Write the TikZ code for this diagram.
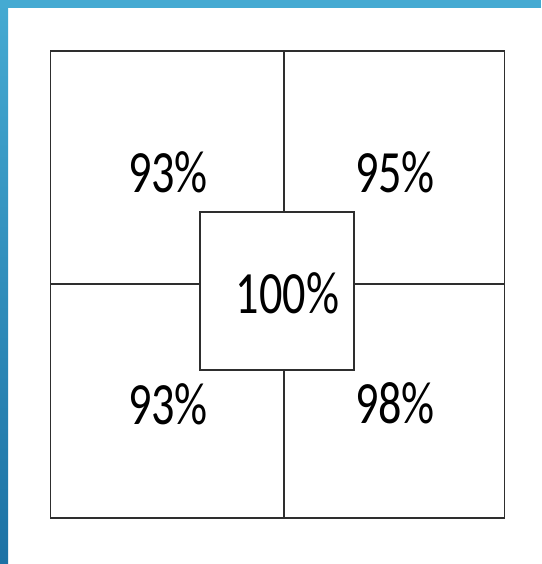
\documentclass[tikz,border=0pt]{standalone}
\usepackage{fontspec}
\setmainfont{Carlito}
\definecolor{bartop}{HTML}{45AAD2}
\definecolor{barbot}{HTML}{1C72A5}
\definecolor{linegray}{HTML}{2E2E2E}
\tikzset{
  box/.style={draw=linegray, line width=1.6pt, fill=white},
  grid/.style={draw=linegray, line width=1.4pt},
  pct/.style={inner sep=0pt, font=\fontsize{60}{60}\selectfont, xscale=0.77, anchor=center}
}
\begin{document}
\begin{tikzpicture}[x=1pt,y=-1pt]
\useasboundingbox (0,0) rectangle (541,564);
\fill[white] (0,0) rectangle (541,564);
\shade[top color=bartop, bottom color=barbot] (0,0) rectangle (8,564);
\fill[bartop] (0,0) rectangle (541,8);
\draw[box] (50.5,51) rectangle (504.5,518);
\coordinate (tm) at (284,51);
\coordinate (bm) at (284,518);
\coordinate (lm) at (50.5,284);
\coordinate (rm) at (504.5,284);
\node[box, minimum width=154pt, minimum height=158.5pt, inner sep=0pt] (c) at (277,291) {};
\draw[grid] (tm) -- (tm |- c.north);
\draw[grid] (bm) -- (bm |- c.south);
\draw[grid] (lm) -- (lm -| c.west);
\draw[grid] (rm) -- (rm -| c.east);
\node[pct] (tl) at (168,172.5) {93\%};
\node[pct] (tr) at (395,172.5) {95\%};
\node[pct] (bl) at (168,404) {93\%};
\node[pct] (br) at (395,403) {98\%};
\node[pct] (ctr) at (287.5,293) {100\%};
\end{tikzpicture}
\end{document}
